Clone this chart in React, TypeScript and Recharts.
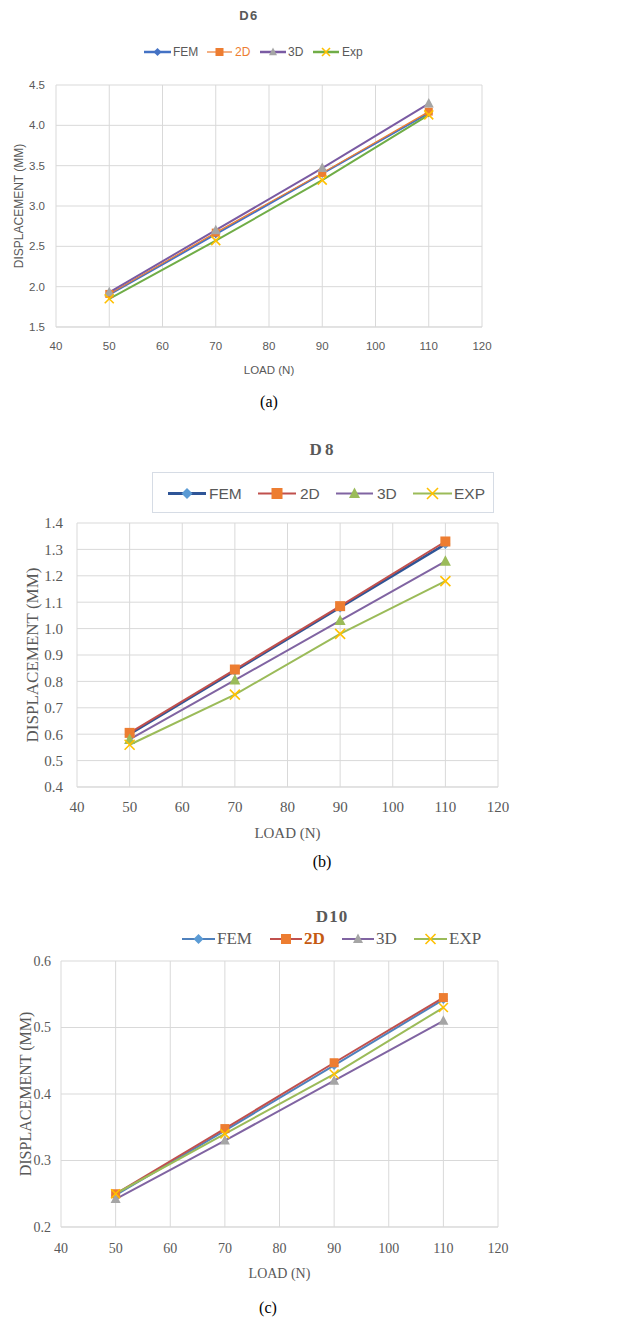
import React from 'react';
import { LineChart, Line, XAxis, YAxis, CartesianGrid, Legend } from 'recharts';

// ---------- data ----------
const loads = [50, 70, 90, 110];
const xTicks = [40, 50, 60, 70, 80, 90, 100, 110, 120];

const d6Fem = [1.9, 2.65, 3.4, 4.15];
const d62D = [1.91, 2.67, 3.41, 4.17];
const d63D = [1.93, 2.7, 3.47, 4.27];
const d6Exp = [1.85, 2.57, 3.32, 4.13];
const d6Ticks = [1.5, 2.0, 2.5, 3.0, 3.5, 4.0, 4.5];

const d8Fem = [0.6, 0.84, 1.08, 1.32];
const d82D = [0.605, 0.845, 1.085, 1.33];
const d83D = [0.58, 0.805, 1.03, 1.255];
const d8Exp = [0.56, 0.75, 0.98, 1.18];
const d8Ticks = [0.4, 0.5, 0.6, 0.7, 0.8, 0.9, 1.0, 1.1, 1.2, 1.3, 1.4];

const d10Fem = [0.248, 0.345, 0.443, 0.542];
const d102D = [0.25, 0.348, 0.447, 0.545];
const d103D = [0.242, 0.33, 0.42, 0.51];
const d10Exp = [0.25, 0.34, 0.43, 0.53];
const d10Ticks = [0.2, 0.3, 0.4, 0.5, 0.6];

const seriesNames1 = ['FEM', '2D', '3D', 'Exp'];
const seriesNames2 = ['FEM', '2D', '3D', 'EXP'];
const seriesKeys = ['fem', 'd2', 'd3', 'exp'];

const build = (a: number[], b: number[], c: number[], d: number[]) =>
  loads.map((x, i) => ({ load: x, fem: a[i], d2: b[i], d3: c[i], exp: d[i] }));

const data6 = build(d6Fem, d62D, d63D, d6Exp);
const data8 = build(d8Fem, d82D, d83D, d8Exp);
const data10 = build(d10Fem, d102D, d103D, d10Exp);

const SANS = '"Liberation Sans", Arial, sans-serif';
const SERIF = '"Liberation Serif", "Times New Roman", serif';
const GRID = '#D9D9D9';
const TXT = '#595959';

// ---------- markers ----------
type Shape = 'diamond' | 'square' | 'triangle' | 'x';
function MarkerSvg({ shape, cx, cy, r, fill }: { shape: Shape; cx: number; cy: number; r: number; fill: string }) {
  if (shape === 'diamond') {
    return <polygon points={`${cx},${cy - r} ${cx + r},${cy} ${cx},${cy + r} ${cx - r},${cy}`} fill={fill} />;
  }
  if (shape === 'square') {
    return <rect x={cx - r} y={cy - r} width={2 * r} height={2 * r} fill={fill} />;
  }
  if (shape === 'triangle') {
    return <polygon points={`${cx},${cy - r * 1.1} ${cx + r},${cy + r * 0.8} ${cx - r},${cy + r * 0.8}`} fill={fill} />;
  }
  return (
    <g stroke={fill} strokeWidth={1.6}>
      <line x1={cx - r} y1={cy - r} x2={cx + r} y2={cy + r} />
      <line x1={cx - r} y1={cy + r} x2={cx + r} y2={cy - r} />
    </g>
  );
}

const makeDot = (shape: Shape, r: number, fill: string) => (props: any) => {
  const { cx, cy, index } = props;
  if (cx == null || cy == null) return <g key={index} />;
  return (
    <g key={`m-${index}`}>
      <MarkerSvg shape={shape} cx={cx} cy={cy} r={r} fill={fill} />
    </g>
  );
};

type SeriesStyle = { line: string; width: number; shape: Shape; fill: string; r: number };

type LegendItem = { x1: number; x2: number; tx: number; textColor?: string; bold?: boolean };

function makeLegend(
  names: string[],
  styles: SeriesStyle[],
  items: LegendItem[],
  opts: { height: number; font: string; size: number; legR: number; lineW?: number[]; box?: { left: number; width: number } }
) {
  return () => (
    <div style={{ position: 'relative', width: 638, height: opts.height }}>
      {opts.box && (
        <div
          style={{
            position: 'absolute',
            left: opts.box.left,
            top: 0,
            width: opts.box.width,
            height: opts.height - 2,
            border: '1px solid #D6DCE5',
            boxSizing: 'border-box',
          }}
        />
      )}
      {items.map((it, i) => {
        const st = styles[i];
        const w = it.x2 - it.x1;
        const mid = opts.height / 2;
        return (
          <React.Fragment key={i}>
            <svg
              style={{ position: 'absolute', left: it.x1, top: 0, overflow: 'visible' }}
              width={w}
              height={opts.height}
            >
              <line x1={0} y1={mid} x2={w} y2={mid} stroke={st.line} strokeWidth={opts.lineW ? opts.lineW[i] : st.width} />
              <MarkerSvg shape={st.shape} cx={w / 2} cy={mid} r={opts.legR} fill={st.fill} />
            </svg>
            <div
              style={{
                position: 'absolute',
                left: it.tx,
                top: 0,
                height: opts.height,
                lineHeight: `${opts.height}px`,
                fontFamily: opts.font,
                fontSize: opts.size,
                color: it.textColor || TXT,
                fontWeight: it.bold ? 'bold' : 'normal',
                whiteSpace: 'nowrap',
              }}
            >
              {names[i]}
            </div>
          </React.Fragment>
        );
      })}
    </div>
  );
}

// ---------- styles per chart ----------
const styles6: SeriesStyle[] = [
  { line: '#4472C4', width: 2, shape: 'diamond', fill: '#4472C4', r: 4 },
  { line: '#ED7D31', width: 1.2, shape: 'square', fill: '#ED7D31', r: 4 },
  { line: '#7A5BA3', width: 2, shape: 'triangle', fill: '#A5A5A5', r: 5 },
  { line: '#70AD47', width: 2, shape: 'x', fill: '#FFC000', r: 4.5 },
];
const styles8: SeriesStyle[] = [
  { line: '#2F5597', width: 2.5, shape: 'diamond', fill: '#5B9BD5', r: 5 },
  { line: '#C0504D', width: 2, shape: 'square', fill: '#ED7D31', r: 5 },
  { line: '#8064A2', width: 2, shape: 'triangle', fill: '#9BBB59', r: 5.5 },
  { line: '#9BBB59', width: 2, shape: 'x', fill: '#FFC000', r: 5 },
];
const styles10: SeriesStyle[] = [
  { line: '#4F81BD', width: 2, shape: 'diamond', fill: '#5B9BD5', r: 4.5 },
  { line: '#C0504D', width: 2, shape: 'square', fill: '#ED7D31', r: 4.5 },
  { line: '#8064A2', width: 2, shape: 'triangle', fill: '#A5A5A5', r: 5 },
  { line: '#9BBB59', width: 2, shape: 'x', fill: '#FFC000', r: 4.5 },
];

type ChartCfg = {
  top: number;
  height: number;
  data: any[];
  names: string[];
  styles: SeriesStyle[];
  yTicks: number[];
  margin: { top: number; right: number; bottom: number; left: number };
  yWidth: number;
  xHeight: number;
  font: string;
  tickSize: number;
  xTickMargin: number;
  yTickMargin: number;
  yLabelSize: number;
  yLabelOffset: number;
  xLabelSize: number;
  xLabelOffset: number;
  legend: () => React.ReactElement;
  legendTop: number;
  legendHeight: number;
};

function Chart({ cfg }: { cfg: ChartCfg }) {
  const tickStyle = { fontFamily: cfg.font, fontSize: cfg.tickSize, fill: TXT };
  return (
    <LineChart width={638} height={cfg.height} data={cfg.data} margin={cfg.margin}>
      <CartesianGrid stroke={GRID} strokeWidth={1} />
      <XAxis
        dataKey="load"
        type="number"
        domain={[40, 120]}
        ticks={xTicks}
        interval={0}
        height={cfg.xHeight}
        tickLine={false}
        tickSize={0}
        tickMargin={cfg.xTickMargin}
        axisLine={{ stroke: GRID }}
        tick={tickStyle}
        label={{
          value: 'LOAD (N)',
          position: 'insideBottom',
          offset: cfg.xLabelOffset,
          style: { fontFamily: cfg.font, fontSize: cfg.xLabelSize, fill: TXT },
        }}
      />
      <YAxis
        type="number"
        domain={[cfg.yTicks[0], cfg.yTicks[cfg.yTicks.length - 1]]}
        ticks={cfg.yTicks}
        interval={0}
        width={cfg.yWidth}
        tickLine={false}
        tickSize={0}
        tickMargin={cfg.yTickMargin}
        axisLine={false}
        tick={tickStyle}
        tickFormatter={(v: number) => v.toFixed(1)}
        label={{
          value: 'DISPLACEMENT (MM)',
          angle: -90,
          position: 'insideLeft',
          offset: cfg.yLabelOffset,
          style: { textAnchor: 'middle', fontFamily: cfg.font, fontSize: cfg.yLabelSize, fill: TXT },
        }}
      />
      <Legend
        layout="horizontal"
        verticalAlign="middle"
        align="center"
        content={cfg.legend}
        wrapperStyle={{ top: cfg.legendTop, left: 0, width: 638, height: cfg.legendHeight }}
      />
      {seriesKeys.map((k, i) => {
        const st = cfg.styles[i];
        return (
          <Line
            key={k}
            dataKey={k}
            name={cfg.names[i]}
            stroke={st.line}
            strokeWidth={st.width}
            dot={makeDot(st.shape, st.r, st.fill)}
            activeDot={false}
            isAnimationActive={false}
          />
        );
      })}
    </LineChart>
  );
}

const cfg6: ChartCfg = {
  top: 0,
  height: 390,
  data: data6,
  names: seriesNames1,
  styles: styles6,
  yTicks: d6Ticks,
  margin: { top: 85, right: 156, bottom: 13, left: 0 },
  yWidth: 56,
  xHeight: 50,
  font: SANS,
  tickSize: 11.5,
  xTickMargin: 15,
  yTickMargin: 11,
  yLabelSize: 12,
  yLabelOffset: 19,
  xLabelSize: 11.5,
  xLabelOffset: 3,
  legendTop: 44,
  legendHeight: 16,
  legend: makeLegend(
    seriesNames1,
    styles6,
    [
      { x1: 144, x2: 171, tx: 173 },
      { x1: 207, x2: 232, tx: 235, textColor: '#ED7D31' },
      { x1: 260, x2: 286, tx: 288 },
      { x1: 313, x2: 339, tx: 342 },
    ],
    { height: 16, font: SANS, size: 12, legR: 4, lineW: [2.5, 1.2, 2.5, 2.5] }
  ),
};

const cfg8: ChartCfg = {
  top: 430,
  height: 420,
  data: data8,
  names: seriesNames2,
  styles: styles8,
  yTicks: d8Ticks,
  margin: { top: 93, right: 140, bottom: 8, left: 0 },
  yWidth: 77,
  xHeight: 55,
  font: SERIF,
  tickSize: 15,
  xTickMargin: 14,
  yTickMargin: 14,
  yLabelSize: 17,
  yLabelOffset: 32,
  xLabelSize: 15,
  xLabelOffset: 4,
  legendTop: 42,
  legendHeight: 43,
  legend: makeLegend(
    seriesNames2,
    styles8,
    [
      { x1: 168, x2: 206, tx: 209 },
      { x1: 258, x2: 296, tx: 300 },
      { x1: 336, x2: 373, tx: 377 },
      { x1: 413, x2: 452, tx: 454 },
    ],
    { height: 43, font: SANS, size: 15.5, legR: 5.5, lineW: [3, 2, 2, 2], box: { left: 152, width: 342 } }
  ),
};

const cfg10: ChartCfg = {
  top: 890,
  height: 400,
  data: data10,
  names: seriesNames2,
  styles: styles10,
  yTicks: d10Ticks,
  margin: { top: 71, right: 140, bottom: 8, left: 0 },
  yWidth: 61,
  xHeight: 55,
  font: SERIF,
  tickSize: 14,
  xTickMargin: 16,
  yTickMargin: 10,
  yLabelSize: 16,
  yLabelOffset: 25,
  xLabelSize: 14,
  xLabelOffset: 4,
  legendTop: 38,
  legendHeight: 22,
  legend: makeLegend(
    seriesNames2,
    styles10,
    [
      { x1: 182, x2: 215, tx: 217 },
      { x1: 270, x2: 302, tx: 304, textColor: '#C55A11', bold: true },
      { x1: 342, x2: 374, tx: 376 },
      { x1: 414, x2: 447, tx: 449 },
    ],
    { height: 22, font: SERIF, size: 17, legR: 5 }
  ),
};

function Title({ text, x, y, font, size, spacing }: { text: string; x: number; y: number; font: string; size: number; spacing: number }) {
  return (
    <div
      style={{
        position: 'absolute',
        left: x - 60,
        width: 120,
        top: y - size * 0.6,
        textAlign: 'center',
        fontFamily: font,
        fontSize: size,
        fontWeight: 'bold',
        color: TXT,
        letterSpacing: spacing,
        lineHeight: `${size * 1.2}px`,
      }}
    >
      {text}
    </div>
  );
}

function Caption({ text, x, y }: { text: string; x: number; y: number }) {
  return (
    <div
      style={{
        position: 'absolute',
        left: x - 30,
        width: 60,
        top: y - 10,
        textAlign: 'center',
        fontFamily: SERIF,
        fontSize: 16,
        color: '#000',
        lineHeight: '20px',
      }}
    >
      {text}
    </div>
  );
}

export default function App() {
  return (
    <div style={{ position: 'absolute', left: 0, top: 0, width: 638, height: 1319, background: '#fff', overflow: 'hidden' }}>
      {[cfg6, cfg8, cfg10].map((c, i) => (
        <div key={i} style={{ position: 'absolute', left: 0, top: c.top, width: 638, height: c.height }}>
          <Chart cfg={c} />
        </div>
      ))}
      <Title text="D6" x={249} y={16} font={SANS} size={13} spacing={1.5} />
      <Title text="D8" x={323} y={450} font={SERIF} size={17} spacing={3} />
      <Title text="D10" x={332} y={917} font={SERIF} size={17} spacing={1} />
      <Caption text="(a)" x={269} y={402} />
      <Caption text="(b)" x={322} y={862} />
      <Caption text="(c)" x={268} y={1308} />
    </div>
  );
}
